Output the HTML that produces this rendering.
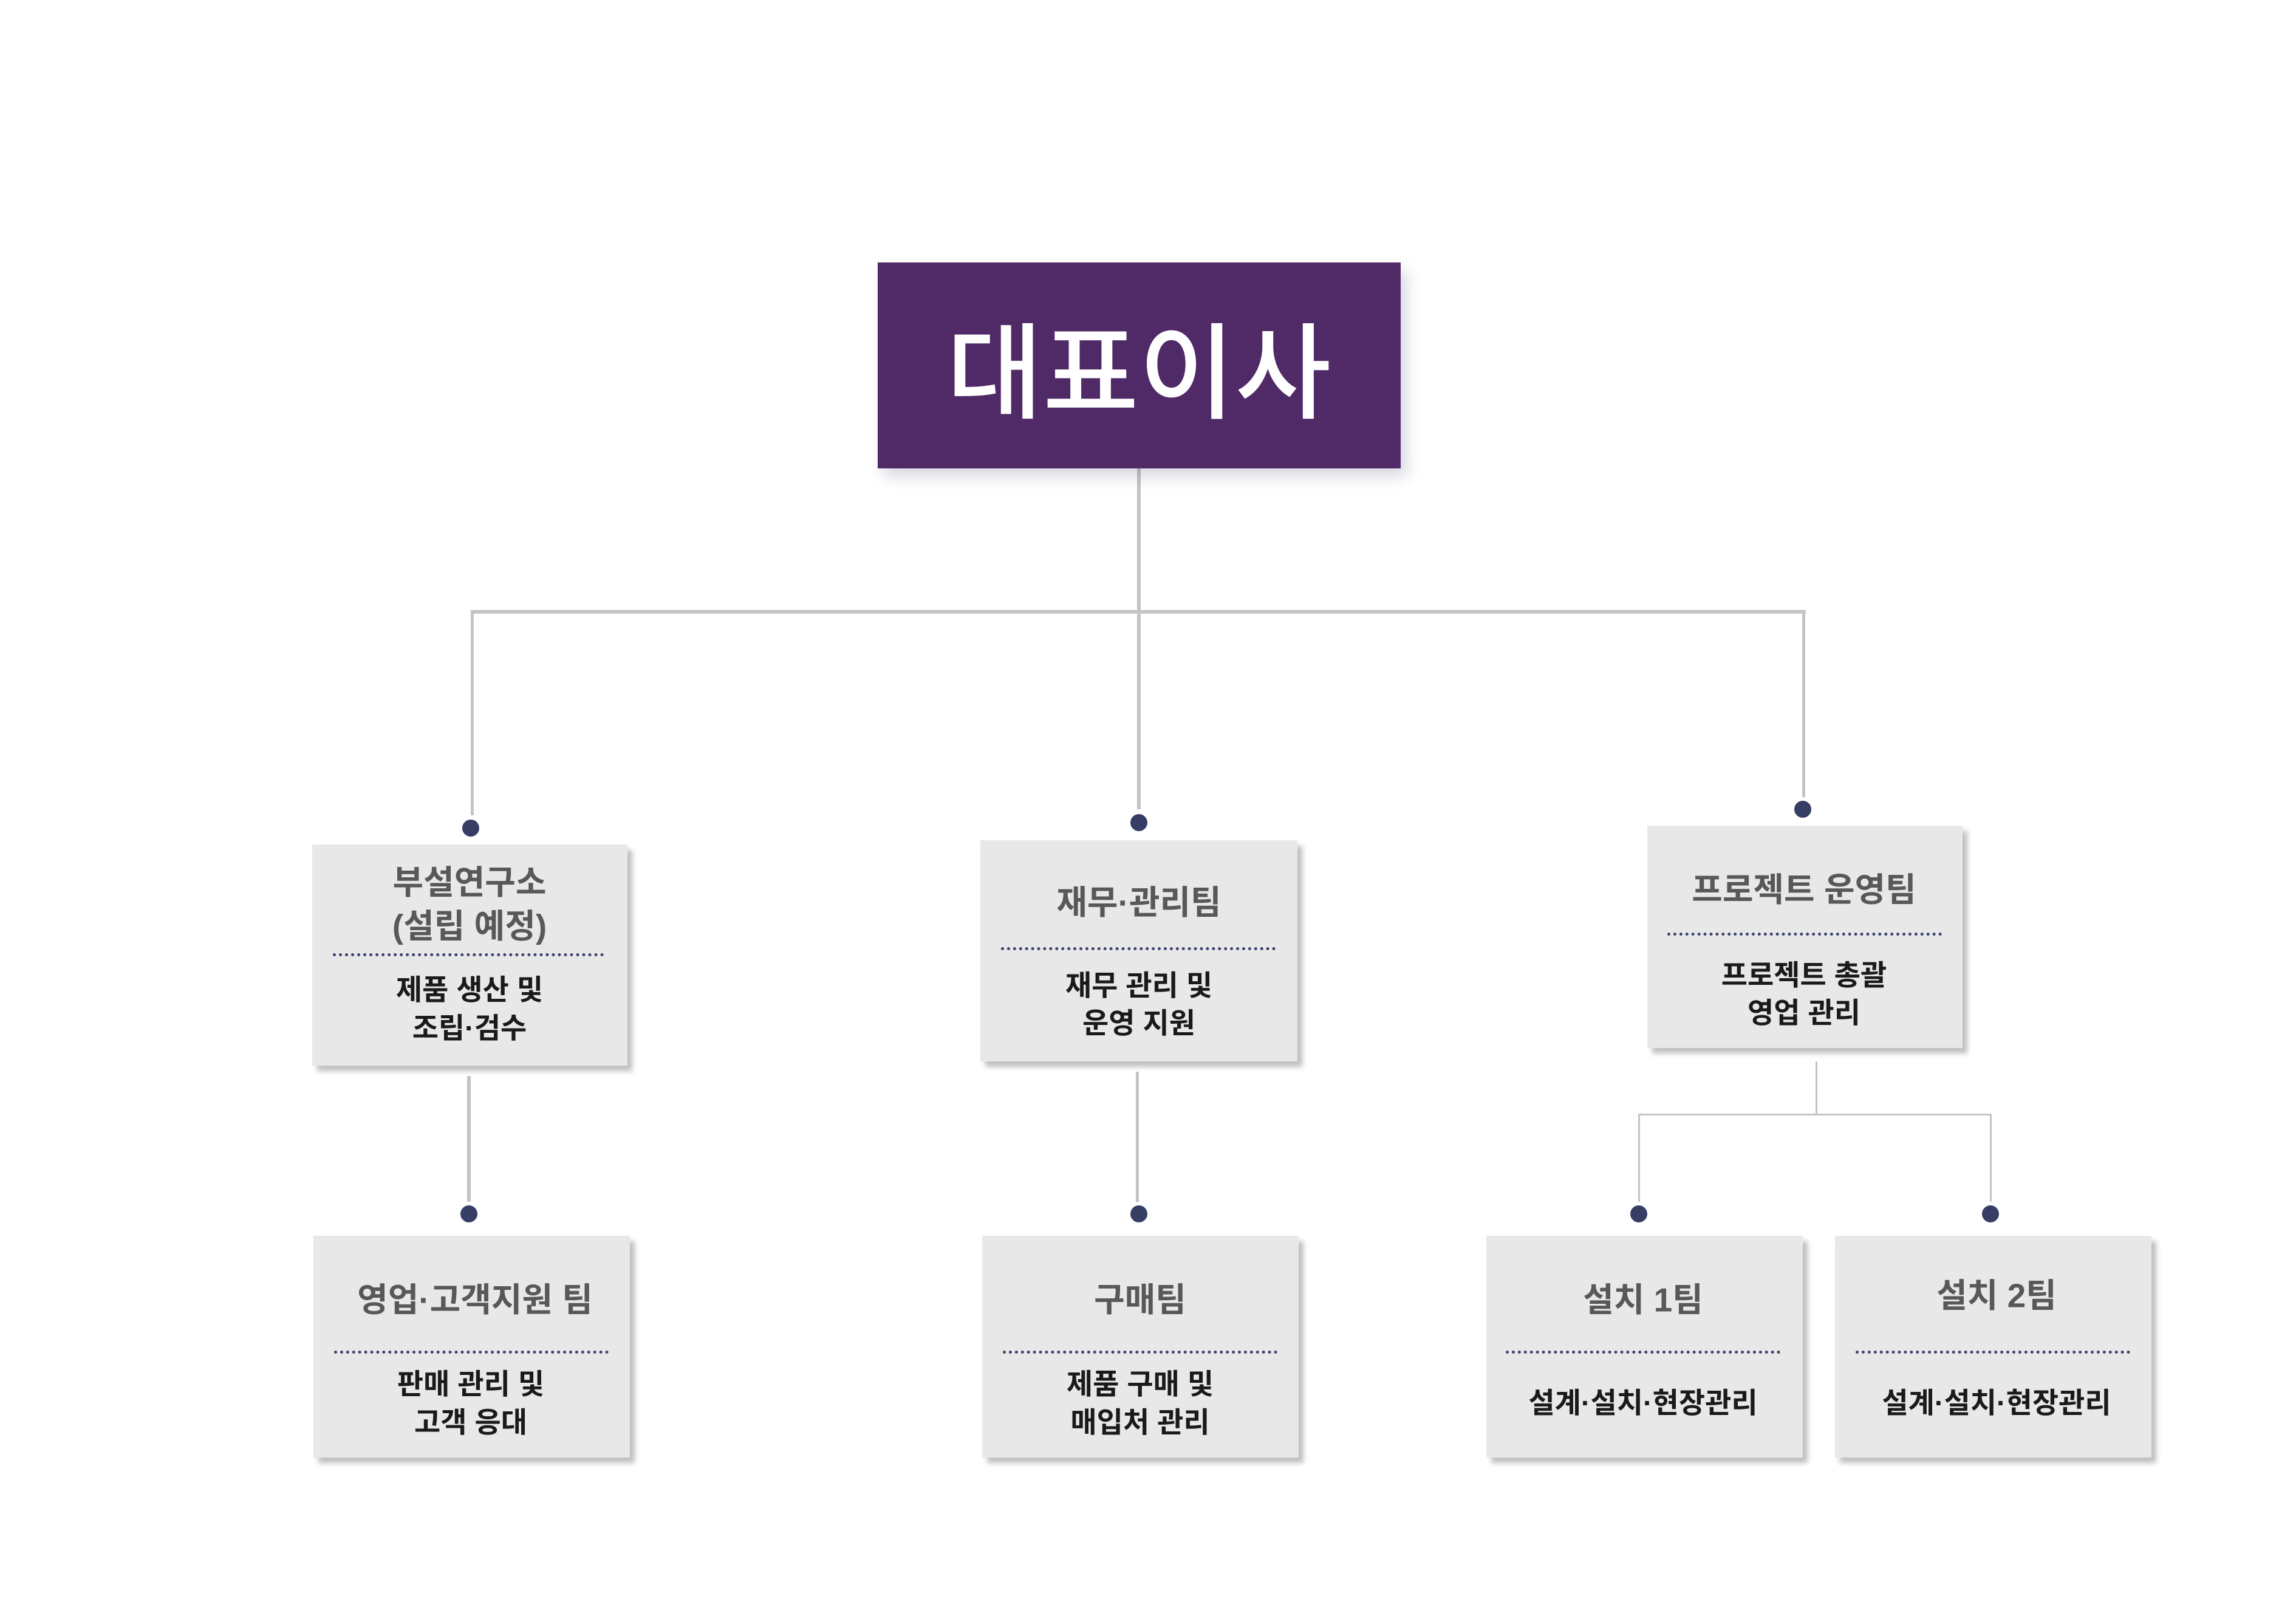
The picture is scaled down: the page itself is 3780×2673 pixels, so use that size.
<!DOCTYPE html>
<html><head><meta charset="utf-8"><style>
html,body{margin:0;padding:0;background:#fff;}
body{width:3780px;height:2673px;position:relative;overflow:hidden;font-family:"Liberation Sans","Noto Sans CJK KR",sans-serif;}
.ab{position:absolute;}
.box{position:absolute;background:#e8e8e8;box-shadow:8px 9px 8px rgba(0,0,0,0.25);}
.t{position:absolute;transform:translate(-50%,-50%);white-space:nowrap;font-weight:bold;text-align:center;line-height:1;}
.ti{color:#585858;font-size:55px;}
.bd{color:#1a1a1a;font-size:47px;}
.dl{position:absolute;height:0;border-top:5px dotted #3c4270;}
.ln{position:absolute;background:#c4c4c4;}
.dot{position:absolute;width:28px;height:28px;border-radius:50%;background:#363e66;border:6px solid #fff;transform:translate(-50%,-50%);}
</style></head><body>
<!-- connectors -->
<div class="ln" style="left:1872px;top:771px;width:6px;height:238px"></div>
<div class="ln" style="left:775px;top:1004px;width:2198px;height:6px"></div>
<div class="ln" style="left:775px;top:1004px;width:5px;height:338px"></div>
<div class="ln" style="left:1872px;top:1004px;width:6px;height:328px"></div>
<div class="ln" style="left:2967px;top:1004px;width:5px;height:312px"></div>
<div class="ln" style="left:769px;top:1771px;width:6px;height:208px"></div>
<div class="ln" style="left:1870px;top:1764px;width:5px;height:215px"></div>
<div class="ln" style="left:2989px;top:1747px;width:3px;height:89px"></div>
<div class="ln" style="left:2697px;top:1833px;width:582px;height:3px"></div>
<div class="ln" style="left:2697px;top:1833px;width:3px;height:145px"></div>
<div class="ln" style="left:3276px;top:1833px;width:3px;height:145px"></div>
<div class="dot" style="left:775px;top:1363px"></div>
<div class="dot" style="left:1875px;top:1354px"></div>
<div class="dot" style="left:2968px;top:1332px"></div>
<div class="dot" style="left:772px;top:1998px"></div>
<div class="dot" style="left:1875px;top:1998px"></div>
<div class="dot" style="left:2698px;top:1998px"></div>
<div class="dot" style="left:3277px;top:1998px"></div>

<!-- top -->
<div class="ab" style="left:1445px;top:432px;width:861px;height:339px;background:#502a67;box-shadow:10px 14px 22px rgba(60,70,110,0.2)"></div>
<div class="t" style="left:1875px;top:600px;color:#fff;font-size:172px;font-family:'Noto Sans CJK KR',sans-serif;font-weight:500">대표이사</div>

<!-- box1 -->
<div class="box" style="left:514px;top:1390px;width:519px;height:364px"></div>
<div class="t ti" style="left:773px;top:1453px">부설연구소</div>
<div class="t ti" style="left:773px;top:1525px">(설립 예정)</div>
<div class="dl" style="left:548px;top:1569px;width:446px"></div>
<div class="t bd" style="left:773px;top:1629px">제품 생산 및</div>
<div class="t bd" style="left:773px;top:1692px">조립·검수</div>

<!-- box2 -->
<div class="box" style="left:1614px;top:1383px;width:522px;height:364px"></div>
<div class="t ti" style="left:1875px;top:1486px">재무·관리팀</div>
<div class="dl" style="left:1648px;top:1559px;width:452px"></div>
<div class="t bd" style="left:1875px;top:1622px">재무 관리 및</div>
<div class="t bd" style="left:1875px;top:1684px">운영 지원</div>

<!-- box3 -->
<div class="box" style="left:2712px;top:1359px;width:519px;height:366px"></div>
<div class="t ti" style="left:2970px;top:1465px">프로젝트 운영팀</div>
<div class="dl" style="left:2745px;top:1535px;width:452px"></div>
<div class="t bd" style="left:2970px;top:1605px">프로젝트 총괄</div>
<div class="t bd" style="left:2970px;top:1667px">영업 관리</div>

<!-- bottom1 -->
<div class="box" style="left:516px;top:2034px;width:521px;height:365px"></div>
<div class="t ti" style="left:782px;top:2140px">영업·고객지원 팀</div>
<div class="dl" style="left:550px;top:2223px;width:452px"></div>
<div class="t bd" style="left:775px;top:2278px">판매 관리 및</div>
<div class="t bd" style="left:775px;top:2341px">고객 응대</div>

<!-- bottom2 -->
<div class="box" style="left:1617px;top:2034px;width:521px;height:365px"></div>
<div class="t ti" style="left:1877px;top:2140px">구매팀</div>
<div class="dl" style="left:1651px;top:2223px;width:452px"></div>
<div class="t bd" style="left:1877px;top:2278px">제품 구매 및</div>
<div class="t bd" style="left:1877px;top:2341px">매입처 관리</div>

<!-- bottom3 -->
<div class="box" style="left:2447px;top:2034px;width:521px;height:365px"></div>
<div class="t ti" style="left:2705px;top:2140px">설치 1팀</div>
<div class="dl" style="left:2479px;top:2223px;width:452px"></div>
<div class="t bd" style="left:2705px;top:2309px">설계·설치·현장관리</div>

<!-- bottom4 -->
<div class="box" style="left:3021px;top:2034px;width:521px;height:365px"></div>
<div class="t ti" style="left:3287px;top:2133px">설치 2팀</div>
<div class="dl" style="left:3055px;top:2223px;width:452px"></div>
<div class="t bd" style="left:3287px;top:2309px">설계·설치·현장관리</div>
</body></html>
